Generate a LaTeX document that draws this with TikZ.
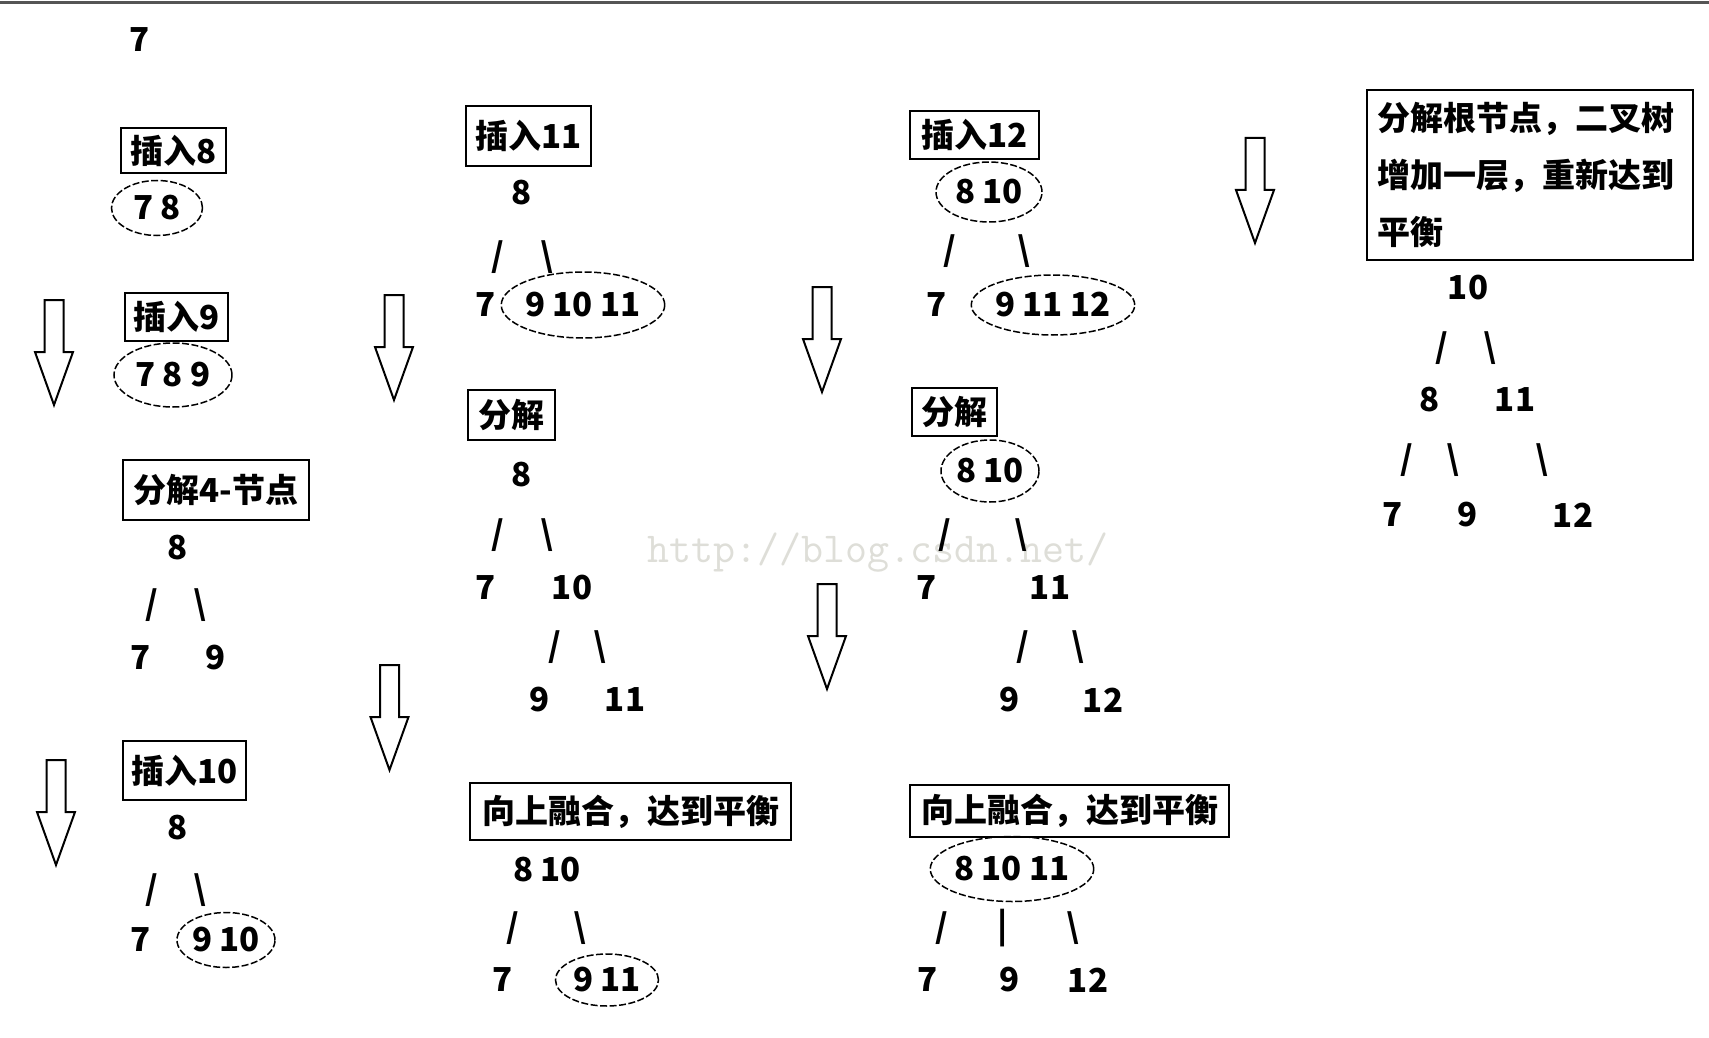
\documentclass[tikz,border=0pt]{standalone}
\usepackage{fontspec}
\setmainfont{Noto Sans CJK SC}
\usepackage{tikz}
\usetikzlibrary{shapes.geometric, positioning}
\definecolor{topline}{RGB}{85,85,85}
\definecolor{wmark}{RGB}{222,222,216}
\newcommand{\hei}{\bfseries\fontsize{33}{40}\selectfont}
\newcommand{\heibox}{\bfseries\fontsize{33}{57}\selectfont}
\tikzstyle{every node}=[font=\hei, inner sep=0pt]
\tikzstyle{block}=[draw, rectangle, line width=2pt]
\tikzstyle{grp}=[draw, ellipse, line width=1.5pt, dash pattern=on 7pt off 2.5pt]

\begin{document}
\begin{tikzpicture}[x=1pt, y=-1pt, node distance=57pt]
    \fill[white] (0,0) rectangle (1709,1038);
    \useasboundingbox (0,0) rectangle (1709,1038);
    \draw[topline, line width=3pt] (0,3) -- (1709,3);
    \node[text=wmark, font=\ttfamily\fontsize{42.7}{50}\selectfont] at (878,553) (wm) {http://blog.csdn.net/};
    % hollow arrows between the steps
    \foreach \ax/\ay in {54/300, 56/760, 394/295, 389.5/665, 822/287, 827/584, 1255/138}
        \draw[line width=2pt] (\ax-9.5,\ay) -- (\ax+9.5,\ay) -- (\ax+9.5,\ay+52) -- (\ax+19,\ay+52)
            -- (\ax,\ay+105) -- (\ax-19,\ay+52) -- (\ax-9.5,\ay+52) -- cycle;
    % first column
    \node at (140,40) (k7) {7};
    \node[block, minimum width=105pt, minimum height=45pt] at (173.5,150.5) (i8) {插入8};
    \node[grp, minimum width=91pt, minimum height=55pt] at (157,208) (g8) {7 8};
    \node[block, minimum width=103pt, minimum height=48pt] at (176.5,317) (i9) {插入9};
    \node[grp, minimum width=118pt, minimum height=64pt] at (173,375) (g9) {7 8 9};
    \node[block, minimum width=186pt, minimum height=60pt] at (216,490) (s4) {分解4-节点};
    \node at (178,548) (s4r) {8};
    \node at (152,605) (s4a) {/};
    \node[right of=s4a, node distance=48pt] (s4b) {\textbackslash};
    \node at (141,658) (s4x) {7};
    \node[right of=s4x, node distance=75pt] (s4y) {9};
    \node[block, minimum width=123pt, minimum height=59pt] at (184.5,770.5) (i10) {插入10};
    \node at (178,828) (t10r) {8};
    \node at (152,890) (t10a) {/};
    \node[right of=t10a, node distance=48pt] (t10b) {\textbackslash};
    \node at (141,940) (t10x) {7};
    \node[grp, minimum width=98pt, minimum height=55pt, right of=t10x, node distance=85pt] (t10y) {9 10};
    % second column
    \node[block, minimum width=125pt, minimum height=60pt] at (528.5,136) (i11) {插入11};
    \node at (522,193) (t11r) {8};
    \node at (498,257) (t11a) {/};
    \node[right of=t11a, node distance=49pt] (t11b) {\textbackslash};
    \node at (486,305) (t11x) {7};
    \node[grp, minimum width=141pt, minimum height=66pt, right of=t11x, node distance=97pt] (t11y) {9 10 11};
    \node[block, minimum width=87pt, minimum height=50pt] at (511.5,415) (f2) {分解};
    \node at (522,475) (f2r) {8};
    \node at (498,535) (f2a) {/};
    \node[right of=f2a, node distance=49pt] (f2b) {\textbackslash};
    \node at (486,588) (f2x) {7};
    \node[right of=f2x, node distance=86pt] (f2y) {10};
    \node at (555,647) (f2c) {/};
    \node[right of=f2c, node distance=45pt] (f2d) {\textbackslash};
    \node at (540,700) (f2u) {9};
    \node[right of=f2u, node distance=85pt] (f2v) {11};
    \node[block, minimum width=321pt, minimum height=57pt] at (630.5,811.5) (h2) {向上融合，达到平衡};
    \node at (547,870) (h2r) {8 10};
    \node at (513,928) (h2a) {/};
    \node[right of=h2a, node distance=67pt] (h2b) {\textbackslash};
    \node at (503,980) (h2x) {7};
    \node[grp, minimum width=103pt, minimum height=52pt, right of=h2x, node distance=104pt] (h2y) {9 11};
    % third column
    \node[block, minimum width=129pt, minimum height=48pt] at (974.5,135) (i12) {插入12};
    \node[grp, minimum width=106pt, minimum height=60pt] at (989,192) (t12r) {8 10};
    \node at (950,251) (t12a) {/};
    \node[right of=t12a, node distance=74pt] (t12b) {\textbackslash};
    \node at (937,305) (t12x) {7};
    \node[grp, minimum width=157pt, minimum height=60pt, right of=t12x, node distance=116pt] (t12y) {9 11 12};
    \node[block, minimum width=85pt, minimum height=48pt] at (954.5,412) (f3) {分解};
    \node[grp, minimum width=98pt, minimum height=62pt] at (990,471) (f3r) {8 10};
    \node at (945,535) (f3a) {/};
    \node[right of=f3a, node distance=76pt] (f3b) {\textbackslash};
    \node at (927,588) (f3x) {7};
    \node[right of=f3x, node distance=123pt] (f3y) {11};
    \node at (1023,647) (f3c) {/};
    \node[right of=f3c, node distance=55pt] (f3d) {\textbackslash};
    \node at (1010,700) (f3u) {9};
    \node[right of=f3u, node distance=93pt] (f3v) {12};
    \node[block, minimum width=319pt, minimum height=52pt] at (1069.5,811) (h3) {向上融合，达到平衡};
    \node[grp, minimum width=153pt, minimum height=65pt] at (1012,869) (h3r) {8 10 11};
    \node at (942,928) (h3a) {/};
    \node at (1003,928) (h3m) {|};
    \node at (1073,928) (h3b) {\textbackslash};
    \node at (928,980) (h3x) {7};
    \node at (1010,980) (h3y) {9};
    \node at (1088,980) (h3z) {12};
    % fourth column
    \node[block, font=\heibox, align=left, text width=306pt, inner xsep=10pt, minimum height=170pt] at (1530,175) (root) {分解根节点，二叉树\\增加一层，重新达到\\平衡};
    \node at (1468,288) (rr) {10};
    \node at (1442,348) (ra) {/};
    \node[right of=ra, node distance=48pt] (rb) {\textbackslash};
    \node at (1430,400) (r8) {8};
    \node[right of=r8, node distance=85pt] (r11) {11};
    \node at (1407,460) (rc) {/};
    \node[right of=rc, node distance=46pt] (rd) {\textbackslash};
    \node at (1542,460) (re) {\textbackslash};
    \node at (1393,515) (rx) {7};
    \node at (1468,515) (ry) {9};
    \node at (1573,515) (rz) {12};
\end{tikzpicture}
\end{document}
